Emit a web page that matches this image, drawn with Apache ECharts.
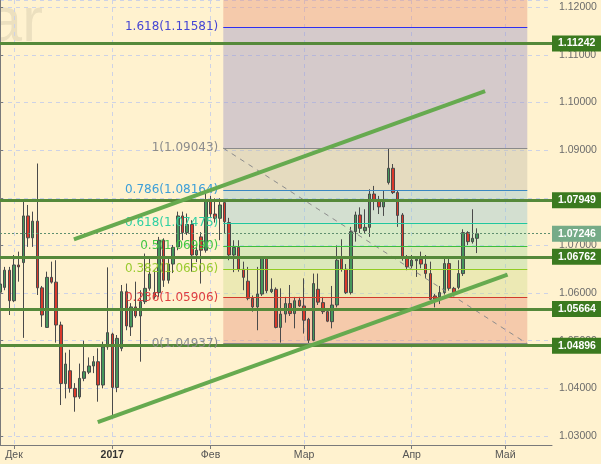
<!DOCTYPE html>
<html><head><meta charset="utf-8">
<script src="https://cdn.jsdelivr.net/npm/echarts@6/dist/echarts.min.js"></script>
<style>html,body{margin:0;padding:0;background:#fff2cf}#c{width:601px;height:464px}</style>
</head><body><div id="c"></div>
<script>
// trading days (categories), incl. empty future days
const dates = [
'2016-11-28','2016-11-29','2016-11-30',
'2016-12-01','2016-12-02','2016-12-05','2016-12-06','2016-12-07','2016-12-08','2016-12-09','2016-12-12','2016-12-13','2016-12-14','2016-12-15','2016-12-16','2016-12-19','2016-12-20','2016-12-21','2016-12-22','2016-12-23','2016-12-27','2016-12-28','2016-12-29','2016-12-30',
'2017-01-03','2017-01-04','2017-01-05','2017-01-06','2017-01-09','2017-01-10','2017-01-11','2017-01-12','2017-01-13','2017-01-16','2017-01-17','2017-01-18','2017-01-19','2017-01-20','2017-01-23','2017-01-24','2017-01-25','2017-01-26','2017-01-27','2017-01-30','2017-01-31',
'2017-02-01','2017-02-02','2017-02-03','2017-02-06','2017-02-07','2017-02-08','2017-02-09','2017-02-10','2017-02-13','2017-02-14','2017-02-15','2017-02-16','2017-02-17','2017-02-20','2017-02-21','2017-02-22','2017-02-23','2017-02-24','2017-02-27','2017-02-28',
'2017-03-01','2017-03-02','2017-03-03','2017-03-06','2017-03-07','2017-03-08','2017-03-09','2017-03-10','2017-03-13','2017-03-14','2017-03-15','2017-03-16','2017-03-17','2017-03-20','2017-03-21','2017-03-22','2017-03-23','2017-03-24','2017-03-27','2017-03-28','2017-03-29','2017-03-30','2017-03-31',
'2017-04-03','2017-04-04','2017-04-05','2017-04-06','2017-04-07','2017-04-10','2017-04-11','2017-04-12','2017-04-13','2017-04-14','2017-04-17','2017-04-18','2017-04-19','2017-04-20','2017-04-21','2017-04-24','2017-04-25','2017-04-26','2017-04-27','2017-04-28',
'2017-05-01','2017-05-02','2017-05-03','2017-05-04','2017-05-05','2017-05-08','2017-05-09','2017-05-10','2017-05-11','2017-05-12','2017-05-15'
];
const open = [1.0602,1.0612,1.0648,1.0584,1.0659,1.0664,1.0762,1.0716,1.0751,1.0611,1.0528,1.0633,1.0623,1.0533,1.0410,1.0437,1.0400,1.0382,1.0421,1.0434,1.0447,1.0456,1.0407,1.0487,1.0514,1.0402,1.0484,1.0603,1.0529,1.0571,1.0552,1.0582,1.0610,1.0601,1.0601,1.0711,1.0627,1.0661,1.0697,1.0762,1.0727,1.0744,1.0680,1.0718,1.0690,1.0793,1.0766,1.0757,1.0790,1.0748,1.0680,1.0696,1.0650,1.0625,1.0589,1.0571,1.0598,1.0673,1.0603,1.0608,1.0528,1.0556,1.0578,1.0557,1.0585,1.0573,1.0545,1.0501,1.0608,1.0580,1.0561,1.0540,1.0575,1.0673,1.0650,1.0601,1.0729,1.0764,1.0731,1.0738,1.0808,1.0794,1.0781,1.0832,1.0862,1.0811,1.0764,1.0673,1.0657,1.0668,1.0671,1.0661,1.0641,1.0594,1.0592,1.0601,1.0662,1.0610,1.0612,1.0641,1.0727,1.0708,1.0715];
const close = [1.0619,1.0648,1.0584,1.0659,1.0655,1.0762,1.0716,1.0751,1.0611,1.0554,1.0633,1.0623,1.0533,1.0410,1.0451,1.0400,1.0382,1.0421,1.0435,1.0447,1.0456,1.0407,1.0487,1.0517,1.0402,1.0505,1.0603,1.0531,1.0571,1.0552,1.0582,1.0610,1.0640,1.0592,1.0711,1.0627,1.0661,1.0696,1.0762,1.0727,1.0744,1.0680,1.0690,1.0690,1.0793,1.0766,1.0757,1.0785,1.0750,1.0680,1.0696,1.0650,1.0633,1.0589,1.0571,1.0598,1.0673,1.0605,1.0608,1.0528,1.0556,1.0578,1.0557,1.0584,1.0573,1.0543,1.0501,1.0620,1.0581,1.0561,1.0541,1.0575,1.0669,1.0650,1.0601,1.0729,1.0764,1.0736,1.0738,1.0808,1.0794,1.0781,1.0795,1.0862,1.0811,1.0763,1.0673,1.0655,1.0669,1.0671,1.0661,1.0641,1.0587,1.0587,1.0601,1.0662,1.0610,1.0601,1.0641,1.0727,1.0708,1.0715,1.07246];
const low = [1.0575,1.0606,1.0554,1.0581,1.0624,1.0506,1.0697,1.0697,1.0596,1.0529,1.0527,1.0620,1.0496,1.0365,1.0379,1.0391,1.0351,1.0378,1.0415,1.0430,1.0432,1.0372,1.0400,1.0481,1.0340,1.0392,1.0478,1.0522,1.0510,1.0548,1.0456,1.0577,1.0605,1.0588,1.0592,1.0613,1.0620,1.0642,1.0690,1.0711,1.0722,1.0645,1.0665,1.0620,1.0685,1.0760,1.0748,1.0711,1.0726,1.0669,1.0644,1.0645,1.0606,1.0585,1.0561,1.0522,1.0594,1.0600,1.0600,1.0526,1.0496,1.0538,1.0552,1.0526,1.0571,1.0515,1.0494,1.0499,1.0575,1.0556,1.0539,1.0526,1.0570,1.0645,1.0598,1.0597,1.0708,1.0726,1.0724,1.0718,1.0774,1.0766,1.0762,1.0828,1.0808,1.0739,1.0668,1.0648,1.0652,1.0634,1.0652,1.0631,1.0585,1.0570,1.0577,1.0597,1.0605,1.0598,1.0608,1.0636,1.0701,1.0704,1.0684];
const high = [1.0632,1.0655,1.0655,1.0680,1.0687,1.0794,1.0785,1.0771,1.0872,1.0615,1.0645,1.0666,1.0669,1.0540,1.0475,1.0481,1.0411,1.0452,1.0500,1.0465,1.0468,1.0484,1.0498,1.0654,1.0517,1.0512,1.0617,1.0620,1.0579,1.0624,1.0606,1.0683,1.0676,1.0648,1.0718,1.0715,1.0676,1.0701,1.0771,1.0771,1.0767,1.0753,1.0701,1.0728,1.0810,1.0804,1.0799,1.0799,1.0795,1.0758,1.0711,1.0711,1.0666,1.0655,1.0595,1.0655,1.0676,1.0676,1.0631,1.0612,1.0610,1.0592,1.0617,1.0592,1.0592,1.0631,1.0548,1.0641,1.0641,1.0592,1.0565,1.0615,1.0700,1.0713,1.0661,1.0739,1.0771,1.0780,1.0776,1.0818,1.0825,1.0804,1.0816,1.0904,1.0871,1.0815,1.0768,1.0680,1.0680,1.0676,1.0687,1.0680,1.0666,1.0598,1.0615,1.0675,1.0676,1.0613,1.0669,1.0734,1.0730,1.0776,1.0736];
const monthLabels = {'2016-12-01':'Дек','2017-01-03':'2017','2017-02-01':'Фев','2017-03-01':'Мар','2017-04-03':'Апр','2017-05-01':'Май'};
const levelLines = [1.11242, 1.07949, 1.06762, 1.05664, 1.04896];
const lastPrice = 1.07246;
const fibRatios = ['1.618','1','0.786','0.618','0.5','0.382','0.236','0'];
const fibPrices = [1.11581, 1.09043, 1.08164, 1.07475, 1.06990, 1.06506, 1.05906, 1.04937];
const fibSpan = [47.73, 112.72];           // bar-index range of the fib grid
const upperTrend = [[15.8, 1.0713], [103.7, 1.1024]];
const lowerTrend = [[20.9, 1.0329], [108.5, 1.0639]];
const yMin = 1.02811, yMax = 1.12153;

const fibLineColors = ['#2f2ff0','#8a8a8a','#3a88c2','#1fc7a0','#3cbf3c','#92cc22','#d23a2a','#8a8a8a'];
const fibTextColors = ['#4646d4','#8c8c8c','#3d9fd8','#2fd0a2','#44c644','#9acb30','#e04040','#8c8c8c'];
const zoneColors = ['rgba(230,142,117,0.4)','rgba(150,142,197,0.4)','rgba(190,184,167,0.4)','rgba(145,194,209,0.4)',
                    'rgba(152,222,184,0.4)','rgba(165,217,154,0.4)','rgba(207,219,139,0.4)','rgba(230,142,117,0.4)'];

const isMonth = (i, v) => Object.prototype.hasOwnProperty.call(monthLabels, v);
const zoneBounds = [yMax].concat(fibPrices);
const zones = zoneColors.map((c, k) => [
  {xAxis: fibSpan[0], yAxis: zoneBounds[k], itemStyle: {color: c}},
  {xAxis: fibSpan[1], yAxis: zoneBounds[k + 1], itemStyle: {color: c}}
]);
const fibLines = fibPrices.map((p, k) => [
  {coord: [fibSpan[0], p], lineStyle: {color: fibLineColors[k], width: 1, type: 'solid'},
   label: {show: true, position: 'start', distance: 5, formatter: fibRatios[k] + '(' + p.toFixed(5) + ')',
           color: fibTextColors[k], fontFamily: 'DejaVu Sans', fontSize: 12}},
  {coord: [fibSpan[1], p], lineStyle: {color: fibLineColors[k], width: 1, type: 'solid'}}
]);

const chart = echarts.init(document.getElementById('c'));
chart.setOption({
  animation: false,
  backgroundColor: '#fff2cf',
  textStyle: {fontFamily: 'Liberation Sans'},
  graphic: [{type: 'text', x: -13, y: 24, z: 0,
    style: {text: 'ar', fontSize: 63, fontFamily: 'Liberation Sans', fill: 'rgba(100,95,80,0.12)', verticalAlign: 'middle'}}],
  grid: {left: 0, right: 49, top: 0, bottom: 19, outerBoundsMode: 'none'},
  xAxis: [{
    type: 'category', data: dates, boundaryGap: false,
    axisLine: {lineStyle: {color: '#7a7a7a'}},
    axisTick: {interval: isMonth, length: 4, lineStyle: {color: '#7a7a7a'}},
    axisLabel: {interval: isMonth, color: '#555', fontSize: 10.5, margin: 5,
      formatter: v => monthLabels[v] ? (monthLabels[v] === '2017' ? '{b|2017}' : monthLabels[v]) : '',
      rich: {b: {fontWeight: 'bold', color: '#333', fontSize: 10.5}}},
    splitLine: {show: true, interval: isMonth, lineStyle: {color: '#cdd2e6', type: [4, 4]}}
  }, {
    type: 'value', min: 0, max: dates.length - 1, show: false
  }],
  yAxis: {
    type: 'value', position: 'right', min: yMin, max: yMax, splitNumber: 9,
    axisLine: {show: true, lineStyle: {color: '#7a7a7a'}},
    axisTick: {show: true, length: 3, lineStyle: {color: '#7a7a7a'}},
    axisLabel: {color: '#6b6b6b', fontSize: 10.5, margin: 7, showMinLabel: false, showMaxLabel: false,
      formatter: v => v.toFixed(5)},
    splitLine: {show: true, lineStyle: {color: '#cdd2e6', type: [4, 4]}}
  },
  series: [
    {type: 'candlestick', xAxisIndex: 0, z: 2, barWidth: 3,
     data: open.map((o, i) => [o, close[i], low[i], high[i]]),
     itemStyle: {color: '#45975c', color0: '#d9392b', borderColor: '#4a4a4a', borderColor0: '#4a4a4a', borderWidth: 1}},
    {type: 'line', xAxisIndex: 1, z: 3, data: [], silent: true,
     markArea: {silent: true, data: zones}},
    {type: 'line', xAxisIndex: 1, z: 4, data: [], silent: true,
     markLine: {silent: true, precision: 6, symbol: ['none', 'none'], lineStyle: {width: 1, type: 'solid'}, data: fibLines}},
    {type: 'line', xAxisIndex: 1, z: 4, silent: true, symbol: 'none',
     data: [[fibSpan[0], fibPrices[1]], [fibSpan[1], fibPrices[7]]],
     lineStyle: {color: '#8c8c8c', width: 1, type: [5, 5]}},
    {type: 'line', xAxisIndex: 1, z: 5, silent: true, data: [],
     markLine: {silent: true, precision: 6, symbol: ['none', 'none'],
       lineStyle: {color: '#55893a', width: 3, type: 'solid'},
       label: {show: true, position: 'end', distance: 0, formatter: p => Number(p.value).toFixed(5),
         backgroundColor: '#3b7a1f', color: '#fff', fontWeight: 'bold', fontSize: 10.5, padding: [3, 6, 2, 6]},
       data: levelLines.map(v => ({yAxis: v}))}},
    {type: 'line', xAxisIndex: 1, z: 5, silent: true, data: [],
     markLine: {silent: true, precision: 6, symbol: ['none', 'none'],
       lineStyle: {color: '#5f8f6f', width: 1, type: [2, 2]},
       label: {show: true, position: 'end', distance: 0, formatter: p => Number(p.value).toFixed(5),
         backgroundColor: '#76ab88', color: '#fff', fontWeight: 'bold', fontSize: 10.5, padding: [3, 6, 2, 6]},
       data: [{yAxis: lastPrice}]}},
    {type: 'line', xAxisIndex: 1, z: 6, silent: true, symbol: 'none', data: upperTrend,
     lineStyle: {color: '#66aa4f', width: 4}},
    {type: 'line', xAxisIndex: 1, z: 6, silent: true, symbol: 'none', data: lowerTrend,
     lineStyle: {color: '#66aa4f', width: 4}}
  ]
});
</script>
</body></html>
